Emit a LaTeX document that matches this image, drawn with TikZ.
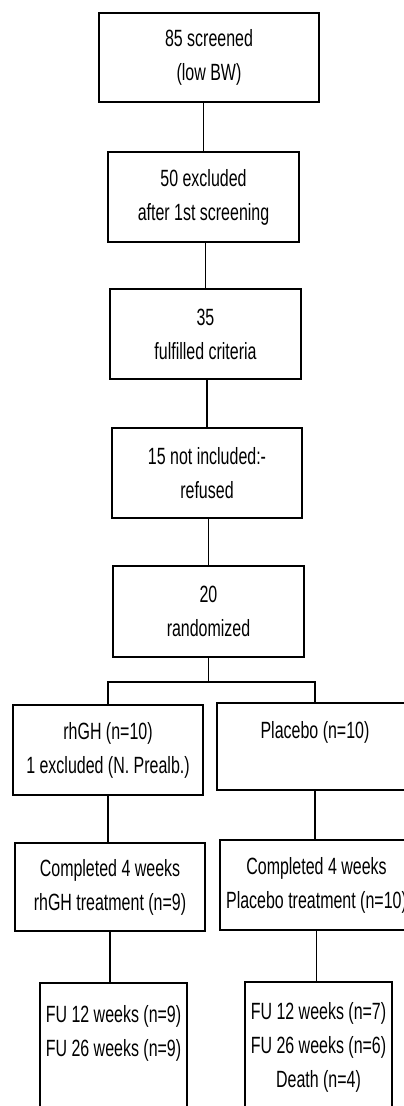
\documentclass[tikz,border=0pt]{standalone}
\usepackage{fontspec}
\setmainfont[FakeStretch=0.68]{Liberation Sans}
\begin{document}
\begin{tikzpicture}[x=1pt,y=-1pt,
  box/.style={draw, line width=1.1pt, inner sep=0pt, align=center,
    font=\fontsize{23.5}{34}\selectfont},
  link/.style={line width=1.1pt}]
\useasboundingbox (0,0) rectangle (404,1106);
\clip (0,0) rectangle (404,1106);
\node[box, minimum width=220pt, minimum height=89pt] (b1) at (209,57.5) {85 screened\\(low BW)};
\node[box, minimum width=191pt, minimum height=90pt] (b2) at (203.5,197) {50 excluded\\after 1st screening};
\node[box, minimum width=191pt, minimum height=90pt] (b3) at (205.5,334) {35\\fulfilled criteria};
\node[box, minimum width=190pt, minimum height=90pt] (b4) at (207,473) {15 not included:-\\refused};
\node[box, minimum width=191pt, minimum height=91pt] (b5) at (208.5,611.5) {20\\randomized};
\node[box, minimum width=190pt, minimum height=90pt] (b6) at (108,750) {rhGH (n=10)\\1 excluded (N. Prealb.)};
\node[box, minimum width=196pt, minimum height=87pt] (b7) at (315,746.5) {Placebo (n=10)\\\mbox{}};
\node[box, minimum width=190pt, minimum height=88pt] (b8) at (110,887) {Completed 4 weeks\\rhGH treatment (n=9)};
\node[box, minimum width=193pt, minimum height=90pt] (b9) at (316.5,885) {Completed 4 weeks\\Placebo treatment (n=10)};
\node[box, minimum width=147pt, minimum height=130pt] (b10) at (113.5,1048) {FU 12 weeks (n=9)\\FU 26 weeks (n=9)\\\mbox{}};
\node[box, minimum width=147pt, minimum height=130pt] (b11) at (318.5,1047) {FU 12 weeks (n=7)\\FU 26 weeks (n=6)\\Death (n=4)};
\coordinate (bl) at (108,682);
\coordinate (br) at (313,682);
\draw[link] (b1.south -| b2.north) -- (b2.north);
\draw[link] (b2.south -| b3.north) -- (b3.north);
\draw[link] (b3.south -| b4.north) -- (b4.north);
\draw[link] (b4.south -| b5.north) -- (b5.north);
\draw[link] (b5.south) -- (b5.south |- bl);
\draw[link] (b6.north) -- (b6.north |- bl) -- (b7.north |- br) -- (b7.north);
\draw[link] (b6.south) -- (b6.south |- b8.north);
\draw[link] (b7.south) -- (b7.south |- b9.north);
\draw[link] (b8.south) -- (b8.south |- b10.north);
\draw[link] (b9.south) -- (b9.south |- b11.north);
\end{tikzpicture}
\end{document}
